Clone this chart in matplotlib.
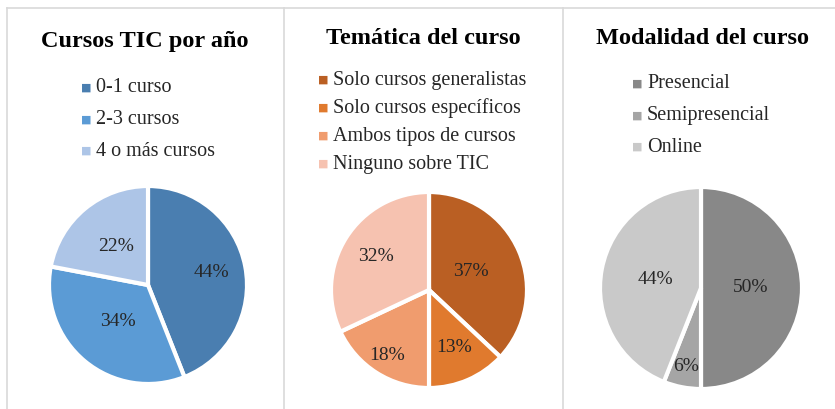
import numpy as np
import matplotlib.pyplot as plt
from matplotlib.lines import Line2D

plt.rcParams['font.family'] = ['Liberation Serif', 'DejaVu Serif']

W, H = 835, 409

# Datos
titulos = ["Cursos TIC por año", "Temática del curso", "Modalidad del curso"]

cursos_labels = ["0-1 curso", "2-3 cursos", "4 o más cursos"]
cursos_vals = [44, 34, 22]
cursos_colors = ["#4A7EB0", "#5B9BD5", "#ADC5E7"]

tematica_labels = ["Solo cursos generalistas", "Solo cursos específicos",
                   "Ambos tipos de cursos", "Ninguno sobre TIC"]
tematica_vals = [37, 13, 18, 32]
tematica_colors = ["#BA5F23", "#E07A2E", "#F09C6E", "#F6C2B0"]

modalidad_labels = ["Presencial", "Semipresencial", "Online"]
modalidad_vals = [50, 6, 44]
modalidad_colors = ["#888888", "#A5A5A5", "#C9C9C9"]

fig = plt.figure(figsize=(W / 100, H / 100), dpi=100)


def fx(px):
    return px / W


def fy(py):
    return 1 - py / H


# marcos grises de los paneles
fig.add_artist(Line2D([fx(7), 1], [fy(8), fy(8)], color="#D9D9D9", lw=1.2))
for xv in [7, 284, 563]:
    fig.add_artist(Line2D([fx(xv), fx(xv)], [fy(8), 0], color="#D9D9D9", lw=1.2))


def panel(title, labels, vals, colors, cx, cy, r, tx, ty, lx, ly, step, dists):
    ax = fig.add_axes([fx(cx - r), fy(cy + r), 2 * r / W, 2 * r / H])
    wedges, _, pcts = ax.pie(vals, colors=colors, startangle=90, counterclock=False,
                             autopct='%1.0f%%', pctdistance=0.6,
                             wedgeprops=dict(edgecolor="white", linewidth=3),
                             textprops=dict(fontsize=14, color="#262626"))
    # posición de etiquetas tipo Excel (ajuste "best fit")
    for w, t, d in zip(wedges, pcts, dists):
        ang = np.deg2rad((w.theta1 + w.theta2) / 2)
        t.set_position((d * np.cos(ang), d * np.sin(ang)))
    ax.set_xlim(-1, 1)
    ax.set_ylim(-1, 1)
    ax.set_aspect('auto')
    ax.axis('off')
    fig.text(fx(tx), fy(ty), title, ha='center', va='center',
             fontsize=17.5, fontweight='bold')
    for i, (lab, col) in enumerate(zip(labels, colors)):
        y = ly + i * step
        fig.text(fx(lx), fy(y), "\u25A0", ha='center', va='center',
                 fontsize=8, color=col, family='DejaVu Sans')
        fig.text(fx(lx + 10), fy(y), lab, ha='left', va='center',
                 fontsize=14.5, color="#262626")


panel(titulos[0], cursos_labels, cursos_vals, cursos_colors,
      148, 285, 99, 145, 42, 86, 88, 31.5, [0.65, 0.48, 0.50])
panel(titulos[1], tematica_labels, tematica_vals, tematica_colors,
      429, 290, 98, 423, 38, 323, 80, 28, [0.47, 0.64, 0.79, 0.64])
panel(titulos[2], modalidad_labels, modalidad_vals, modalidad_colors,
      701, 288, 101, 702, 38, 637, 84, 31.5, [0.49, 0.79, 0.46])

fig.savefig("out.png", dpi=100, facecolor="white")
